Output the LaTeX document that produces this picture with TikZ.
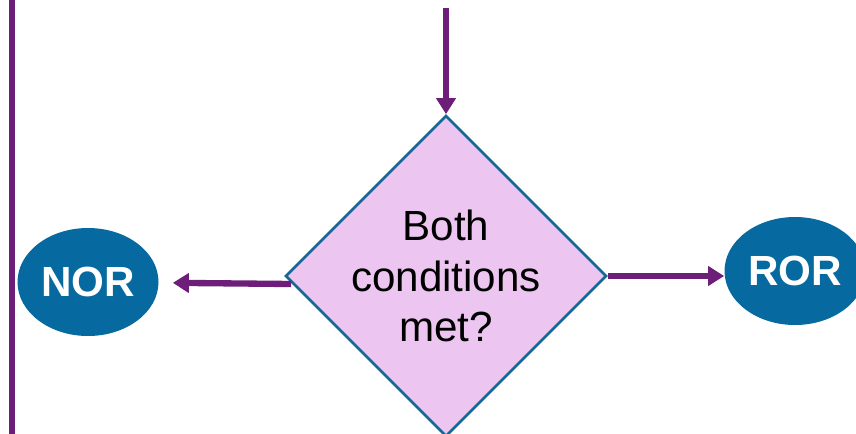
\documentclass[tikz,border=0pt]{standalone}
\usepackage{fontspec}
\setmainfont{Liberation Sans}
\definecolor{flowpurple}{RGB}{108,30,120}
\definecolor{decisionfill}{RGB}{236,198,240}
\definecolor{decisionedge}{RGB}{20,104,150}
\definecolor{termblue}{RGB}{6,106,160}
\usetikzlibrary{arrows.meta,shapes.geometric}

\begin{document}
\begin{tikzpicture}[
    flow/.style={flowpurple,line width=3.6pt,-{Triangle[length=0.32cm,width=0.38cm]}},
    decision/.style={diamond,draw=decisionedge,line width=1.5pt,fill=decisionfill,
      minimum width=6.28cm,minimum height=6.28cm,aspect=1,inner sep=0pt,
      align=center,font=\fontsize{24}{28.5}\selectfont},
    terminal/.style={ellipse,fill=termblue,minimum width=2.82cm,minimum height=2.16cm,
      inner sep=0pt,text=white,font=\fontsize{24}{28}\selectfont\bfseries}
  ]
        \useasboundingbox (0,0) rectangle (17.12,-8.66);
        \clip (0,0) rectangle (17.12,-8.66);
        \draw[flowpurple,line width=3.6pt] (0.24,0.1) -- (0.24,-8.8);
        \node[decision] (check) at (8.92,-5.52) {Both\\conditions\\met?};
        \node[terminal] (nor) at (1.76,-5.64) {NOR};
        \node[terminal] (ror) at (15.9,-5.42) {ROR};
        \coordinate (entry) at (8.92,-0.16);
        \draw[flow] (entry) -- (check.north);
        \draw[flow,shorten >=0.28cm] ([shift={(0.14,-0.16)}]check.west) -- (nor);
        \draw[flow] (check.east) -- (check.east -| ror.west);
      \end{tikzpicture}
\end{document}
